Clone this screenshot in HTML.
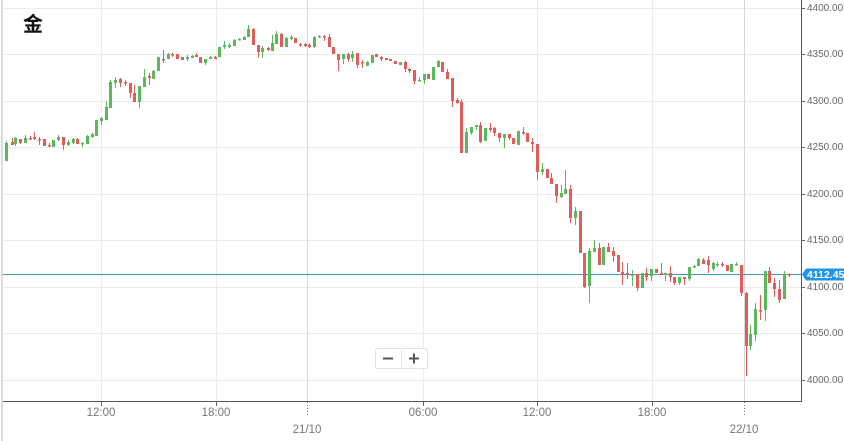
<!DOCTYPE html>
<html><head><meta charset="utf-8"><style>
html,body{margin:0;padding:0;background:#fff;}
svg{display:block;}
text{font-family:"Liberation Sans","Noto Sans CJK SC",sans-serif;}
</style></head><body>
<svg width="844" height="441" viewBox="0 0 844 441" xmlns="http://www.w3.org/2000/svg">
<rect x="0" y="0" width="844" height="441" fill="#fff"/>
<rect x="1" y="0" width="2" height="441" fill="#dcdcdc"/>
<g stroke="#ebebeb" stroke-width="1">
<path d="M3 8.5H801M3 54.5H801M3 101.5H801M3 147.5H801M3 194.5H801M3 240.5H801M3 287.5H801M3 333.5H801M3 380.5H801"/>
<path d="M101.5 0V401M216.5 0V401M423.5 0V401M537.5 0V401M652.5 0V401"/>
</g>
<path d="M307.5 0V401M744.5 0V401" stroke="#d9d9d9" stroke-width="1"/>
<path d="M3 274.5H801" stroke="#3a99bb" stroke-width="1"/>
<path fill="#e35c5c" d="M11 142h3V145h-3zM19 139h3V143h-3zM29 138h3V139.5h-3zM33 137h3V139h-3zM38 139h3V140.5h-3zM43 139h3V146h-3zM48 145h3V146.5h-3zM62 137h3V145h-3zM76 139h3V144h-3zM119 79h3V83h-3zM124 82h3V83.5h-3zM129 83h3V93h-3zM133 93h3V102h-3zM148 76h3V78h-3zM162 59h3V60.5h-3zM171 54h3V55.5h-3zM176 54h3V59h-3zM181 57h3V60h-3zM195 55h3V57h-3zM199 57h3V63h-3zM214 57h3V59h-3zM252 29h3V45h-3zM257 45h3V52h-3zM267 48h3V50h-3zM280 34h3V47h-3zM294 38h3V43h-3zM299 44h3V45.5h-3zM304 44h3V46h-3zM308 45h3V47h-3zM323 36h3V37.5h-3zM328 37h3V47h-3zM332 47h3V54h-3zM337 54h3V60h-3zM347 54h3V59h-3zM356 53h3V65h-3zM361 62h3V63.5h-3zM375 54h3V57h-3zM380 57h3V59h-3zM385 58h3V60h-3zM389 59h3V61h-3zM394 61h3V64h-3zM404 62h3V69h-3zM408 69h3V71h-3zM413 70h3V81h-3zM427 74h3V79h-3zM441 62h3V72h-3zM446 72h3V79h-3zM451 78h3V101h-3zM456 100h3V103h-3zM460 102h3V153h-3zM479 125h3V142h-3zM489 128h3V130h-3zM493 128h3V133h-3zM498 133h3V138h-3zM508 134h3V138h-3zM512 138h3V144h-3zM522 132h3V133.5h-3zM526 133h3V142h-3zM531 142h3V144h-3zM536 144h3V172h-3zM546 169h3V178h-3zM550 178h3V184h-3zM555 184h3V196h-3zM569 189h3V218h-3zM579 211h3V253h-3zM583 253h3V287h-3zM598 248h3V265h-3zM607 247h3V252h-3zM612 251h3V256h-3zM617 255h3V272h-3zM621 272h3V275h-3zM626 273h3V275h-3zM636 274h3V288h-3zM645 273h3V277h-3zM655 269h3V273h-3zM660 273h3V275h-3zM669 273h3V277h-3zM673 277h3V283h-3zM683 277h3V279h-3zM702 260h3V264h-3zM707 260h3V265h-3zM721 264h3V265.5h-3zM726 265h3V271h-3zM740 265h3V293h-3zM745 293h3V346h-3zM759 310h3V311.5h-3zM768 271h3V283h-3zM773 283h3V289h-3zM778 289h3V300h-3zM788 274h3V275.5h-3z"/>
<path stroke="#e35c5c" stroke-width="1" fill="none" d="M12.5 138V145M20.5 139V144M30.5 136V140M34.5 132V140M39.5 137V145M44.5 139V146M49.5 143V147M63.5 137V150M77.5 138V144M120.5 78V87M125.5 80V86M130.5 83V98M134.5 85V102M149.5 73V85M163.5 50V63M172.5 53V57M177.5 54V59M182.5 57V60M196.5 53V57M200.5 57V63M215.5 56V59M253.5 28V45M258.5 45V58M268.5 47V51M281.5 33V47M295.5 38V43M300.5 43V47M305.5 43V47M309.5 43V48M324.5 35V41M329.5 34V47M333.5 47V54M338.5 54V71M348.5 53V62M357.5 53V68M362.5 60V68M376.5 54V57M381.5 56V61M386.5 58V60M390.5 59V61M395.5 61V64M405.5 61V72M409.5 68V73M414.5 70V84M428.5 74V79M442.5 62V72M447.5 69V79M452.5 78V107M457.5 98V104M461.5 99V153M480.5 122V143M490.5 123V132M494.5 127V136M499.5 133V142M509.5 134V140M513.5 138V144M523.5 127V135M527.5 133V142M532.5 138V152M537.5 144V180M547.5 169V178M551.5 173V184M556.5 184V203M570.5 185V223M580.5 211V253M584.5 253V288M599.5 243V265M608.5 243V252M613.5 247V262M618.5 255V272M622.5 262V285M627.5 263V279M637.5 274V291M646.5 268V281M656.5 269V273M661.5 263V275M670.5 266V282M674.5 277V285M684.5 277V285M703.5 258V264M708.5 256V273M722.5 262V267M727.5 265V271M741.5 265V296M746.5 292V376M760.5 295V320M769.5 267V283M774.5 278V297M779.5 280V303M789.5 273V277"/>
<path fill="#5cb85c" d="M5 143h3V161h-3zM14 138h3V144h-3zM24 138h3V143h-3zM52 140h3V147h-3zM57 137h3V140h-3zM67 142h3V145h-3zM72 139h3V143h-3zM81 143h3V144.5h-3zM86 136h3V144h-3zM91 134h3V137h-3zM95 120h3V136h-3zM100 118h3V121h-3zM105 107h3V120h-3zM109 82h3V108h-3zM114 80h3V83h-3zM138 86h3V102h-3zM143 77h3V87h-3zM152 71h3V79h-3zM157 57h3V71h-3zM167 54h3V59h-3zM186 57h3V59h-3zM191 56h3V58h-3zM204 59h3V63h-3zM209 57h3V59h-3zM218 47h3V57h-3zM223 45h3V47h-3zM228 45h3V47h-3zM233 40h3V46h-3zM238 39h3V40.5h-3zM243 37h3V40h-3zM247 29h3V37h-3zM261 48h3V52h-3zM271 43h3V51h-3zM275 34h3V44h-3zM285 38h3V47h-3zM290 37h3V39h-3zM313 37h3V47h-3zM318 36h3V37.5h-3zM342 54h3V59h-3zM351 54h3V58h-3zM366 62h3V66h-3zM371 55h3V63h-3zM399 62h3V65h-3zM418 80h3V81.5h-3zM423 74h3V80h-3zM432 67h3V80h-3zM437 61h3V67h-3zM465 132h3V153h-3zM470 127h3V133h-3zM475 125h3V127h-3zM484 128h3V141h-3zM503 134h3V138h-3zM517 131h3V145h-3zM541 169h3V172h-3zM560 193h3V197h-3zM564 189h3V194h-3zM574 211h3V218h-3zM588 251h3V286h-3zM593 248h3V252h-3zM602 247h3V265h-3zM631 274h3V276h-3zM641 273h3V288h-3zM650 269h3V276h-3zM664 273h3V275h-3zM678 277h3V283h-3zM688 267h3V279h-3zM693 266h3V267.5h-3zM697 259h3V266h-3zM712 263h3V269h-3zM716 264h3V265.5h-3zM730 264h3V272h-3zM735 264h3V265.5h-3zM749 334h3V346h-3zM754 309h3V335h-3zM764 271h3V310h-3zM783 274h3V299h-3z"/>
<path stroke="#5cb85c" stroke-width="1" fill="none" d="M6.5 141V161M15.5 137V146M25.5 135V143M53.5 140V147M58.5 135V141M68.5 140V146M73.5 138V144M82.5 142V147M87.5 135V144M92.5 133V138M96.5 120V136M101.5 117V125M106.5 101V120M110.5 80V108M115.5 77V88M139.5 86V108M144.5 69V87M153.5 70V79M158.5 57V71M168.5 53V59M187.5 55V61M192.5 55V58M205.5 59V65M210.5 56V59M219.5 47V57M224.5 41V49M229.5 43V48M234.5 39V46M239.5 38V40M244.5 36V40M248.5 25V37M262.5 46V58M272.5 35V51M276.5 31V44M286.5 37V47M291.5 35V40M314.5 36V48M319.5 35V38M343.5 54V64M352.5 51V62M367.5 61V66M372.5 55V63M400.5 62V65M419.5 77V81M424.5 74V84M433.5 67V80M438.5 60V67M466.5 128V153M471.5 127V135M476.5 125V130M485.5 128V141M504.5 134V148M518.5 131V145M542.5 163V175M561.5 185V198M565.5 170V194M575.5 207V225M589.5 248V303M594.5 240V252M603.5 247V265M632.5 270V286M642.5 273V288M651.5 269V281M665.5 273V281M679.5 277V285M689.5 267V281M694.5 265V268M698.5 258V266M713.5 262V271M717.5 262V267M731.5 264V272M736.5 262V265.5M750.5 325V350M755.5 303V341M765.5 271V321M784.5 271V299"/>
<path d="M801.5 0V401.5M3 401.5H802" stroke="#555" stroke-width="1" fill="none"/>
<path d="M801 8.5H805M801 54.5H805M801 101.5H805M801 147.5H805M801 194.5H805M801 240.5H805M801 287.5H805M801 333.5H805M801 380.5H805" stroke="#666" stroke-width="1"/>
<path d="M101.5 402V406M216.5 402V406M423.5 402V406M537.5 402V406M652.5 402V406" stroke="#666" stroke-width="1"/>
<path d="M307.5 402V417M744.5 402V417" stroke="#777" stroke-width="1" stroke-dasharray="1,2"/>
<g font-size="10" fill="#666" dominant-baseline="central">
<text x="807" y="8.5">4400.00</text>
<text x="807" y="54.5">4350.00</text>
<text x="807" y="101.5">4300.00</text>
<text x="807" y="147.5">4250.00</text>
<text x="807" y="194.5">4200.00</text>
<text x="807" y="240.5">4150.00</text>
<text x="807" y="287.5">4100.00</text>
<text x="807" y="333.5">4050.00</text>
<text x="807" y="380.5">4000.00</text>
</g>
<g font-size="11.5" fill="#777" text-anchor="middle" dominant-baseline="central">
<text x="101" y="413">12:00</text>
<text x="216" y="413">18:00</text>
<text x="423" y="413">06:00</text>
<text x="537" y="413">12:00</text>
<text x="652" y="413">18:00</text>
<text x="307" y="430">21/10</text>
<text x="744" y="430">22/10</text>
</g>
<path d="M802 274.5L806 268.5H844V280.5H806Z" fill="#2196e8"/>
<text x="807" y="274.8" font-size="10.5" font-weight="bold" fill="#fff" dominant-baseline="central">4112.45</text>
<rect x="375.5" y="348.5" width="52" height="20" rx="2" fill="#fff" stroke="#e2e2e2"/>
<path d="M401.5 350V367" stroke="#e6e6e6"/>
<path d="M383 358.5H393M409 358.5H419M414 353.5V363.5" stroke="#555" stroke-width="2"/>
<text x="23" y="31" font-size="20" font-weight="bold" fill="#111" font-family="'Noto Sans CJK SC','WenQuanYi Zen Hei',sans-serif">金</text>
</svg>
</body></html>
